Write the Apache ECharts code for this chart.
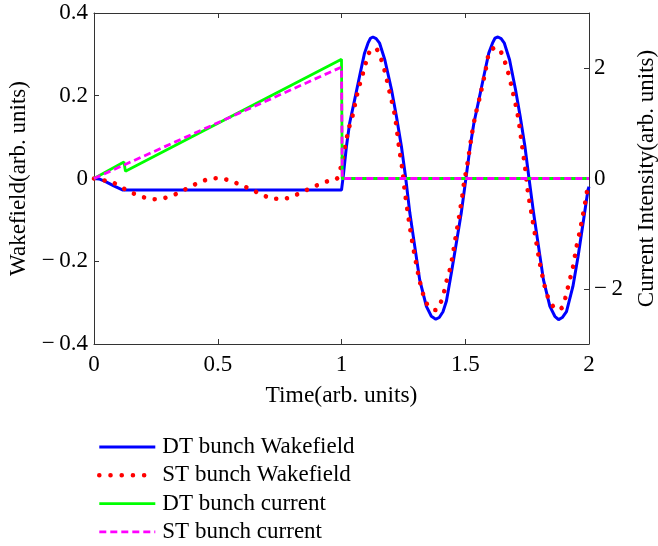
<!DOCTYPE html>
<html>
<head>
<meta charset="utf-8">
<script src="https://cdn.jsdelivr.net/npm/echarts@6/dist/echarts.min.js"></script>
<style>
  html, body { margin: 0; padding: 0; background: #fff; }
  #chart { width: 658px; height: 546px; }
</style>
</head>
<body>
<div id="chart"></div>
<script>
// Time axis ticks and right-axis ticks
const timeTicks = [0, 0.5, 1, 1.5, 2];
const currentTicks = [-2, 0, 2];

// Wakefield of the DT bunch, [time, wakefield]
const dtWakefield = [
  [0, 0], [0.02, -0.001], [0.045, -0.007], [0.08, -0.018], [0.117, -0.028],
  [0.5, -0.028], [1.0, -0.028], [1.004, -0.028], [1.007, 0.005],
  [1.02, 0.078], [1.033, 0.134], [1.053, 0.19], [1.073, 0.247], [1.093, 0.303],
  [1.107, 0.327], [1.117, 0.339], [1.127, 0.342], [1.14, 0.338], [1.154, 0.327],
  [1.175, 0.287], [1.202, 0.215], [1.222, 0.15], [1.242, 0.078], [1.259, 0.003],
  [1.276, -0.083], [1.296, -0.164], [1.316, -0.245], [1.343, -0.309], [1.363, -0.333],
  [1.381, -0.34], [1.395, -0.336], [1.41, -0.322], [1.424, -0.296], [1.444, -0.228],
  [1.464, -0.156], [1.484, -0.083], [1.502, -0.003],
  [1.52, 0.078], [1.535, 0.134], [1.555, 0.19], [1.575, 0.247], [1.595, 0.303],
  [1.61, 0.327], [1.62, 0.339], [1.632, 0.342], [1.645, 0.338], [1.658, 0.327],
  [1.679, 0.287], [1.703, 0.215], [1.722, 0.15], [1.741, 0.078], [1.757, 0.003],
  [1.776, -0.083], [1.796, -0.164], [1.816, -0.245], [1.842, -0.309], [1.862, -0.333],
  [1.877, -0.341], [1.892, -0.336], [1.909, -0.322], [1.935, -0.261], [1.956, -0.188],
  [1.976, -0.108], [1.996, -0.027], [2.0, -0.02]
];

// Wakefield of the ST bunch, [time, wakefield]
const stWakefield = [
  [0, 0], [0.023, -0.003], [0.07, -0.008], [0.11, -0.021], [0.155, -0.035],
  [0.198, -0.045], [0.242, -0.05], [0.286, -0.047], [0.33, -0.038], [0.373, -0.025],
  [0.416, -0.012], [0.461, -0.002], [0.505, 0.001], [0.548, -0.005], [0.592, -0.015],
  [0.636, -0.027], [0.68, -0.039], [0.723, -0.049], [0.766, -0.049], [0.811, -0.041],
  [0.855, -0.029], [0.899, -0.017], [0.942, -0.007], [0.982, 0.0],
  [1.0, 0.035], [1.013, 0.074], [1.03, 0.122], [1.044, 0.15], [1.063, 0.203],
  [1.087, 0.255], [1.111, 0.303], [1.126, 0.314], [1.141, 0.313], [1.161, 0.287],
  [1.175, 0.259], [1.195, 0.207], [1.215, 0.154], [1.232, 0.078], [1.246, 0.021],
  [1.255, -0.027], [1.272, -0.1], [1.285, -0.15], [1.3, -0.2], [1.315, -0.245],
  [1.33, -0.28], [1.345, -0.303], [1.363, -0.315], [1.38, -0.318], [1.397, -0.305],
  [1.413, -0.277], [1.424, -0.249], [1.437, -0.222], [1.448, -0.19], [1.46, -0.146],
  [1.475, -0.093], [1.488, -0.042], [1.494, -0.015],
  [1.51, 0.04], [1.525, 0.1], [1.54, 0.15], [1.56, 0.2], [1.58, 0.255],
  [1.596, 0.303], [1.612, 0.314], [1.626, 0.317], [1.64, 0.31], [1.653, 0.294],
  [1.672, 0.259], [1.693, 0.207], [1.712, 0.154], [1.73, 0.078], [1.743, 0.021],
  [1.752, -0.027], [1.772, -0.1], [1.786, -0.15], [1.8, -0.2], [1.815, -0.245],
  [1.83, -0.28], [1.845, -0.3], [1.855, -0.309], [1.873, -0.318], [1.892, -0.311],
  [1.908, -0.28], [1.92, -0.25], [1.935, -0.215], [1.948, -0.17], [1.962, -0.13],
  [1.975, -0.09], [1.987, -0.05], [1.996, -0.015]
];

// Bunch currents, [time, intensity]
const dtCurrent = [[0, 0], [0.121, 0.3], [0.127, 0.13], [1.0, 2.16], [1.003, 0], [2, 0]];
const stCurrent = [[0, 0], [1.0, 2.02], [1.003, 0], [2, 0]];

const seriesNames = ['DT bunch Wakefield', 'ST bunch Wakefield', 'DT bunch current', 'ST bunch current'];

const FONT = '"Liberation Serif", "Times New Roman", serif';
const AXIS_COLOR = '#333';

// Line looks shared by each series and its legend entry
const styles = [
  { color: '#0000ff', width: 3 },
  { color: '#ff0000', width: 4.6, type: [0.01, 10.8], cap: 'round' },
  { color: '#00ff00', width: 2.8 },
  { color: '#ff00ff', width: 2.8, type: [7, 4] }
];

function fmt(v) {
  if (v < 0) return '\u2212\u2009' + String(Math.abs(v));
  return String(v);
}

const chart = echarts.init(document.getElementById('chart'), null, { renderer: 'canvas' });

const tickStyle = { show: true, inside: true, length: 5, lineStyle: { color: AXIS_COLOR, width: 1 } };
const lineAxis = { show: true, onZero: false, lineStyle: { color: AXIS_COLOR, width: 1 } };

chart.setOption({
  animation: false,
  backgroundColor: '#fff',
  textStyle: { fontFamily: FONT },
  grid: { left: 94, top: 13, right: 69, bottom: 202, containLabel: false, outerBoundsMode: 'none' },
  legend: {
    data: seriesNames.map((name, i) => ({
      name: name,
      lineStyle: Object.assign({}, styles[i], i === 1 ? { type: [0.01, 11.2] } : {})
    })),
    orient: 'vertical',
    left: 97,
    top: 433,
    padding: 0,
    itemGap: 0.3,
    itemWidth: 56,
    itemHeight: 14,
    itemStyle: { opacity: 0 },
    textStyle: { fontFamily: FONT, fontSize: 23, color: '#000', lineHeight: 28, padding: [0, 0, 0, 2] }
  },
  xAxis: [
    {
      type: 'value', min: 0, max: 2, interval: 0.5, position: 'bottom',
      name: 'Time(arb. units)', nameLocation: 'middle', nameGap: 40,
      nameTextStyle: { fontFamily: FONT, fontSize: 23.5, color: '#000' },
      axisLine: lineAxis, axisTick: tickStyle,
      axisLabel: { show: true, margin: 9, fontFamily: FONT, fontSize: 23, color: '#000', formatter: fmt },
      splitLine: { show: false }
    },
    {
      type: 'value', min: 0, max: 2, interval: 0.5, position: 'top',
      axisLine: lineAxis, axisTick: tickStyle, axisLabel: { show: false }, splitLine: { show: false }
    }
  ],
  yAxis: [
    {
      type: 'value', min: -0.4, max: 0.4, interval: 0.2, position: 'left',
      name: 'Wakefield(arb. units)', nameLocation: 'middle', nameGap: 62, nameRotate: 90,
      nameTextStyle: { fontFamily: FONT, fontSize: 23, color: '#000' },
      axisLine: lineAxis, axisTick: tickStyle,
      axisLabel: { show: true, margin: 6, fontFamily: FONT, fontSize: 23, color: '#000',
        formatter: v => fmt(Math.round(v * 10) / 10) },
      splitLine: { show: false }
    },
    {
      type: 'value', min: -3, max: 3, position: 'right',
      name: 'Current Intensity(arb. units)', nameLocation: 'middle', nameGap: 46, nameRotate: 90,
      nameTextStyle: { fontFamily: FONT, fontSize: 23, color: '#000' },
      axisLine: lineAxis,
      axisTick: Object.assign({}, tickStyle, { customValues: currentTicks }),
      axisLabel: { show: true, margin: 5, fontFamily: FONT, fontSize: 23, color: '#000',
        customValues: currentTicks, formatter: fmt },
      splitLine: { show: false }
    }
  ],
  series: [
    {
      name: seriesNames[0], type: 'line', xAxisIndex: 0, yAxisIndex: 0,
      data: dtWakefield, symbol: 'none', smooth: false, z: 2,
      color: styles[0].color, lineStyle: styles[0]
    },
    {
      name: seriesNames[1], type: 'line', xAxisIndex: 0, yAxisIndex: 0,
      data: stWakefield, symbol: 'none', smooth: 0.3, z: 3,
      color: styles[1].color, lineStyle: styles[1]
    },
    {
      name: seriesNames[2], type: 'line', xAxisIndex: 0, yAxisIndex: 1,
      data: dtCurrent, symbol: 'none', z: 4,
      color: styles[2].color, lineStyle: styles[2]
    },
    {
      name: seriesNames[3], type: 'line', xAxisIndex: 0, yAxisIndex: 1,
      data: stCurrent, symbol: 'none', z: 5,
      color: styles[3].color, lineStyle: styles[3]
    }
  ]
});
</script>
</body>
</html>
